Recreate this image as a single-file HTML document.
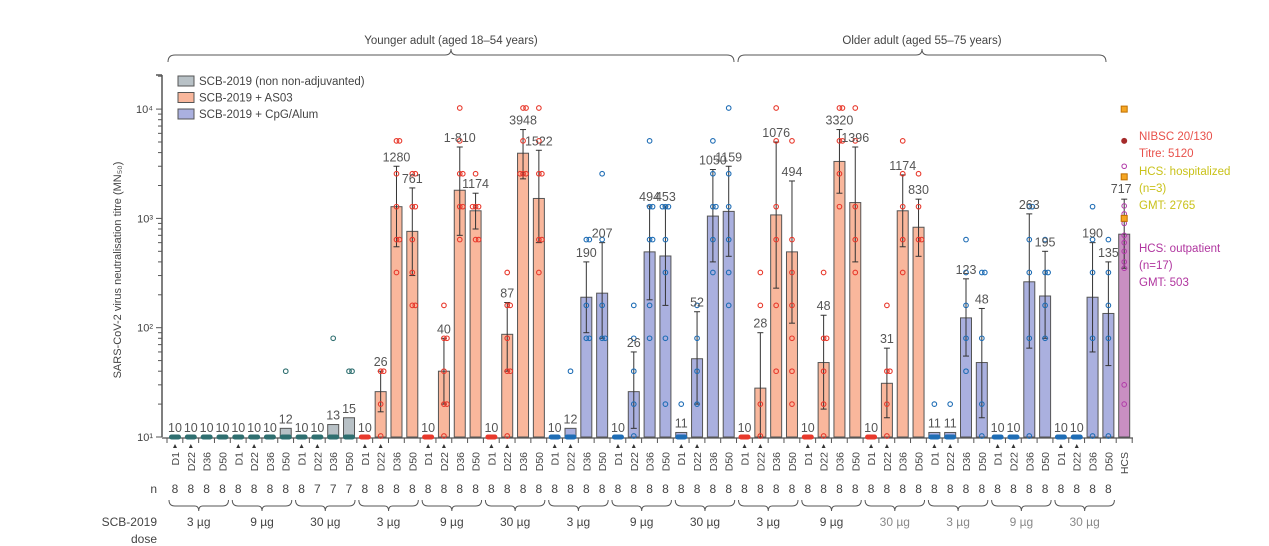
<!DOCTYPE html>
<html><head><meta charset="utf-8"><style>
body{margin:0;background:#fff;}
svg{display:block;font-family:"Liberation Sans",sans-serif;}
</style></head><body>
<svg id="chart" width="1269" height="546"></svg>
<script>
const days=["D1","D22","D36","D50"];
const doses=["3 µg","9 µg","30 µg","3 µg","9 µg","30 µg","3 µg","9 µg","30 µg","3 µg","9 µg","30 µg","3 µg","9 µg","30 µg"];
const nCounts=[8,8,8,8,8,8,8,8,8,7,7,7,8,8,8,8,8,8,8,8,8,8,8,8,8,8,8,8,8,8,8,8,8,8,8,8,8,8,8,8,8,8,8,8,8,8,8,8,8,8,8,8,8,8,8,8,8,8,8,8];
const groups=["gray","gray","gray","as03","as03","as03","cpg","cpg","cpg","as03","as03","as03","cpg","cpg","cpg"];
const gmt=[10,10,10,10, 10,10,10,12, 10,10,13,15,
 10,26,1280,761, 10,40,1810,1174, 10,87,3948,1522,
 10,12,190,207, 10,26,494,453, 11,52,1050,1159,
 10,28,1076,494, 10,48,3320,1396, 10,31,1174,830,
 11,11,123,48, 10,10,263,195, 10,10,190,135];
const gmtLabels=["10","10","10","10","10","10","10","12","10","10","13","15",
 "10","26","1280","761","10","40","1-810","1174","10","87","3948","1522",
 "10","12","190","207","10","26","494","453","11","52","1050","1159",
 "10","28","1076","494","10","48","3320","1396","10","31","1174","830",
 "11","11","123","48","10","10","263","195","10","10","190","135"];
const ciHigh=[0,0,0,0,0,0,0,0,0,0,0,0,
 0,40,3000,1900, 0,80,4500,1700, 0,170,6500,4200,
 0,0,400,600, 0,60,1300,1300, 0,140,2800,3000,
 0,90,5000,2200, 0,130,6500,4500, 0,65,2500,1500,
 0,0,280,150, 0,0,1100,500, 0,0,600,400];
const ciLow=[0,0,0,0,0,0,0,0,0,0,0,0,
 0,17,550,300, 0,20,700,800, 0,40,2300,600,
 0,0,90,80, 0,12,180,160, 0,20,400,450,
 0,10,230,110, 0,18,1700,400, 0,15,550,450,
 0,0,55,15, 0,0,65,80, 0,0,60,45];
const indiv=[[],[],[],[], [],[],[],[40], [],[],[80],[40,40],
 [],[40,40,20,10],[5120,5120,2560,1280,640,640,320],[2560,2560,1280,1280,640,320,160,160],
 [],[160,80,80,40,20,20,10],[10240,5120,2560,2560,1280,1280,640],[2560,1280,1280,1280,640,640],
 [],[320,160,160,80,40,40,10],[10240,10240,5120,2560,2560,2560],[10240,5120,2560,2560,640,640,320],
 [],[40],[640,640,160,80,80],[2560,640,160,80,80],
 [],[160,80,40,20,10],[5120,1280,1280,640,640,160,80],[1280,1280,1280,640,320,80,20],
 [20],[160,80,40,20],[5120,2560,1280,1280,640,320],[10240,2560,1280,640,320,160],
 [],[320,160,20,10],[10240,5120,1280,640,160,40],[5120,640,320,160,80,40,20],
 [],[320,80,80,40,20,10],[10240,10240,5120,5120,2560,1280],[10240,5120,1280,640,320],
 [],[160,40,40,20,10],[5120,2560,1280,640,320],[2560,1280,640,640],
 [20],[20],[640,320,160,80,40],[320,320,80,20,10],
 [],[],[1280,1280,640,320,80,10],[640,320,320,160,80],
 [],[],[1280,640,320,80,10],[640,320,160,80,10]];
const hcsValue=717, hcsHigh=1500, hcsLow=350;
const hcsOutpatient=[3000,1300,1100,900,700,600,500,400,350,30,20];
const hcsHospital=[10000,2400,1000];
const nibscTitre=5120;
const yTicks=[10,100,1000,10000];
const yTickLabels=["10¹","10²","10³","10⁴"];

const NS="http://www.w3.org/2000/svg";
const svg=document.getElementById("chart");
function el(tag,attrs,parent){const e=document.createElementNS(NS,tag);for(const k in attrs)e.setAttribute(k,attrs[k]);(parent||svg).appendChild(e);return e;}
function txt(x,y,s,attrs){const t=el("text",Object.assign({x:x,y:y},attrs||{}));t.textContent=s;return t;}
const Y0=437,DEC=109.3;
function y(v){return Y0-(Math.log10(v)-1)*DEC;}
function x(i){return 175+15.82*i;}
const fills={gray:"#b8c1c6",as03:"#f9b79c",cpg:"#aab0df",hcs:"#c98fc2"};
const dots={gray:"#2f6f70",as03:"#e8392c",cpg:"#1f6db5"};

const ax=el("line",{x1:162,y1:75,x2:162,y2:Y0,stroke:"#555","stroke-width":1.5});


el("line",{x1:156,y1:75,x2:162,y2:75,stroke:"#555","stroke-width":1.5});
for(let d=1;d<=4;d++){for(let m=1;m<10;m++){const v=Math.pow(10,d)*m;const yy=y(v);if(yy<75)break;el("line",{x1:m==1?156:158,y1:yy,x2:162,y2:yy,stroke:"#555","stroke-width":1});}}
yTicks.forEach((v,i)=>{const t=txt(153,y(v)+4,yTickLabels[i],{"text-anchor":"end","font-size":11,fill:"#444"});

});
const yt=txt(0,0,"SARS-CoV-2 virus neutralisation titre (MN₅₀)",{transform:"translate(121,270) rotate(-90)","text-anchor":"middle","font-size":11,fill:"#444"});



el("line",{x1:162,y1:Y0+1,x2:1133,y2:Y0+1,stroke:"#555","stroke-width":1.2});

gmt.forEach((v,i)=>{
 const g=groups[Math.floor(i/4)];const cx=x(i);
 el("line",{x1:cx-8,y1:Y0+1,x2:cx-8,y2:Y0+6,stroke:"#555"});
 if(v>10.5){const r=el("rect",{x:cx-5.5,y:y(v),width:11,height:Y0-y(v),fill:fills[g],stroke:"#555","stroke-width":1});
 
 }
 if(ciHigh[i]>0){el("line",{x1:cx,y1:y(ciHigh[i]),x2:cx,y2:y(ciLow[i]),stroke:"#333"});
  el("line",{x1:cx-3,y1:y(ciHigh[i]),x2:cx+3,y2:y(ciHigh[i]),stroke:"#333"});
  el("line",{x1:cx-3,y1:y(ciLow[i]),x2:cx+3,y2:y(ciLow[i]),stroke:"#333"});}
 if(v<=15)el("rect",{x:cx-6,y:Y0-2.5,width:12,height:5,rx:2.5,fill:dots[g]});
 const cnt={};
 indiv[i].forEach(p=>{cnt[p]=(cnt[p]||0)+1;const k=cnt[p];const off=k==1?0:(k%2?-1:1)*3;
  const c=el("circle",{cx:cx+off,cy:y(p)-(p==10?1:0),r:2.3,fill:"none",stroke:dots[g],"stroke-width":1.1});
  
  });
 const top=ciHigh[i]>0?y(ciHigh[i]):y(v);
 const lab=txt(cx,top-5,gmtLabels[i],{"text-anchor":"middle","font-size":12.5,fill:"#555"});
 
 
 const d=txt(0,0,days[i%4],{transform:`translate(${cx+4},${452}) rotate(-90)`,"text-anchor":"end","font-size":10.5,fill:"#444"});
 
 
 if(i%4<2)el("path",{d:`M${cx-2},${448} L${cx+2},${448} L${cx},${444} Z`,fill:"#333"});
 const n=txt(cx,493,String(nCounts[i]),{"text-anchor":"middle","font-size":12,fill:"#444"});
 
 
});
{const i=60,cx=x(i);
 el("line",{x1:cx-8,y1:Y0+1,x2:cx-8,y2:Y0+6,stroke:"#555"});
 el("line",{x1:cx+8,y1:Y0+1,x2:cx+8,y2:Y0+6,stroke:"#555"});
 const r=el("rect",{x:cx-5.5,y:y(hcsValue),width:11,height:Y0-y(hcsValue),fill:fills.hcs,stroke:"#555"});
 
 
 el("line",{x1:cx,y1:y(hcsHigh),x2:cx,y2:y(hcsLow),stroke:"#333"});
 el("line",{x1:cx-3,y1:y(hcsHigh),x2:cx+3,y2:y(hcsHigh),stroke:"#333"});
 el("line",{x1:cx-3,y1:y(hcsLow),x2:cx+3,y2:y(hcsLow),stroke:"#333"});
 hcsOutpatient.forEach(v=>el("circle",{cx:cx,cy:y(v),r:2.3,fill:"none",stroke:"#b03aa8"}));
 hcsHospital.forEach(v=>el("rect",{x:cx-3,y:y(v)-3,width:6,height:6,fill:"#f5a623",stroke:"#c07000"}));
 el("circle",{cx:cx,cy:y(nibscTitre),r:3,fill:"#a52a2a"});
 const l=txt(cx-3,y(hcsHigh)-6,String(hcsValue),{"text-anchor":"middle","font-size":12.5,fill:"#555"});
 
 
 const d=txt(0,0,"HCS",{transform:`translate(${cx+4},452) rotate(-90)`,"text-anchor":"end","font-size":10.5,fill:"#444"});
 
 }

doses.forEach((s,k)=>{const x1=x(4*k)-6,x2=x(4*k+3)+6,m=(x1+x2)/2;
 el("path",{d:`M${x1},500 Q${x1},506 ${x1+6},506 L${m-4},506 Q${m},506 ${m},511 Q${m},506 ${m+4},506 L${x2-6},506 Q${x2},506 ${x2},500`,fill:"none",stroke:"#555","stroke-width":1});
 const t=txt(m,526,s,{"text-anchor":"middle","font-size":12,fill:k>=11?"#888":"#444"});
 
 });
txt(157,493,"n",{"text-anchor":"end","font-size":12,fill:"#444"});
txt(157,526,"SCB-2019",{"text-anchor":"end","font-size":12,fill:"#444"});
txt(157,543,"dose",{"text-anchor":"end","font-size":12,fill:"#444"});

function bracket(x1,x2,label,name){const m=(x1+x2)/2;
 el("path",{d:`M${x1},62 Q${x1},55 ${x1+7},55 L${m-6},55 Q${m},55 ${m},49 Q${m},55 ${m+6},55 L${x2-7},55 Q${x2},55 ${x2},62`,fill:"none",stroke:"#555"});
 const t=txt(m,44,label,{"text-anchor":"middle","font-size":11.5,fill:"#444"});
 
 }
bracket(168,734,"Younger adult (aged 18–54 years)","younger-adult-label");
bracket(738,1106,"Older adult (aged 55–75 years)","older-adult-label");

[["SCB-2019 (non non-adjuvanted)",fills.gray],["SCB-2019 + AS03",fills.as03],["SCB-2019 + CpG/Alum",fills.cpg]].forEach((e,i)=>{
 const g=el("g",{});
 
 
 el("rect",{x:178,y:76+i*16.5,width:16,height:10,fill:e[1],stroke:"#555"},g);
 const t=txt(199,85+i*16.5,e[0],{"font-size":11.5,fill:"#444"});
 g.appendChild(t);
});
[["NIBSC 20/130",140,"#e8504a"],["Titre: 5120",157,"#e8504a"],["HCS: hospitalized",175,"#c9c21a"],["(n=3)",192,"#c9c21a"],["GMT: 2765",209,"#c9c21a"],["HCS: outpatient",252,"#b0359f"],["(n=17)",269,"#b0359f"],["GMT: 503",286,"#b0359f"]].forEach(a=>{
 const t=txt(1139,a[1],a[0],{"font-size":11.5,fill:a[2]});
 
 });
</script>
</body></html>
